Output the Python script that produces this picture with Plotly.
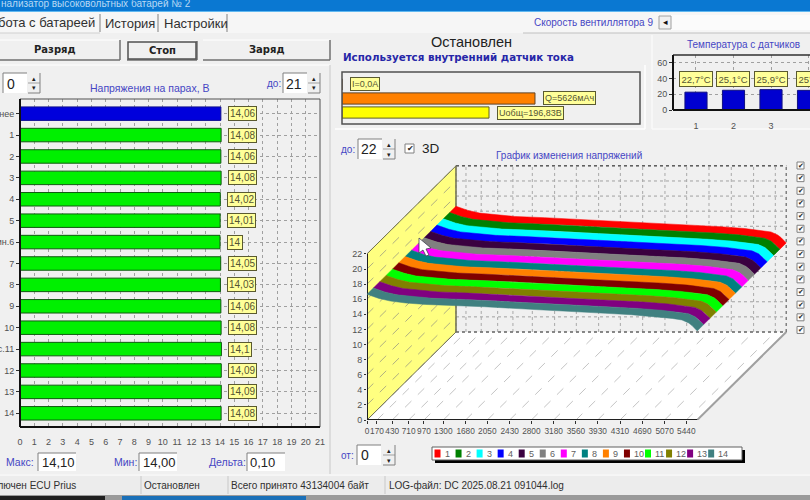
import plotly.graph_objects as go

# ---------- data ----------
pair_labels = ["днее", "1", "2", "3", "4", "5", "ин.6", "7", "8", "9", "10", "с.11", "12", "13", "14"]
pair_volts = [14.06, 14.08, 14.06, 14.08, 14.02, 14.01, 14.0, 14.05, 14.03, 14.06, 14.08, 14.1, 14.09, 14.09, 14.08]
pair_text = ["14,06", "14,08", "14,06", "14,08", "14,02", "14,01", "14", "14,05", "14,03", "14,06", "14,08", "14,1", "14,09", "14,09", "14,08"]
temp_sensors = [1, 2, 3, 4]
temp_values = [22.7, 25.1, 25.9, 25.0]
temp_text = ["22,7°C", "25,1°C", "25,9°C", "25°C"]
charge_mah = 5626
total_volts = 196.83
capacity_ticks = [0, 170, 430, 710, 970, 1300, 1680, 2050, 2430, 2800, 3180, 3560, 3930, 4310, 4690, 5070, 5440]
capacity_mah = [0, 100, 204, 400, 659, 1000, 1510, 2000, 2930, 3500, 4066, 4500, 4918, 5200, 5366, 5480, 5537, 5626]
pair_curve_volts = [16.65, 16.35, 16.1, 15.75, 15.5, 15.3, 15.14, 15.0, 14.6, 14.4, 14.13, 13.95, 13.7, 13.45, 13.25, 12.85, 12.5, 11.8]
series_names = [str(i) for i in range(1, 15)]
series_colors = ["#ff0000", "#008000", "#00ffff", "#0000ff", "#3a0040", "#808080", "#ff00ff",
                 "#008080", "#ff8000", "#800000", "#00ff00", "#808000", "#800080", "#408080"]

# ---------- style ----------
FONT = "Liberation Sans"
BG = "#f0f0f0"
TICK = "#505050"
BLUE = "#4646c4"
W, H = 810, 500


def X(p):
    return p / W


def Y(p):
    return 1 - p / H


shapes = []
annotations = []


def rect(x0, y0, x1, y1, fill=None, line=None, lw=1, layer="below"):
    shapes.append(dict(type="rect", xref="paper", yref="paper", x0=X(x0), x1=X(x1), y0=Y(y0), y1=Y(y1),
                       fillcolor=fill or "rgba(0,0,0,0)", line=dict(color=line or "rgba(0,0,0,0)", width=lw if line else 0),
                       layer=layer))


def hline(x0, y0, x1, y1, color="#a0a0a0", lw=1, dash="solid", layer="below"):
    shapes.append(dict(type="line", xref="paper", yref="paper", x0=X(x0), x1=X(x1), y0=Y(y0), y1=Y(y1),
                       line=dict(color=color, width=lw, dash=dash), layer=layer))


def text(x, y, s, size=10, color="#303030", anchor="left", bold=False, family=FONT, **kw):
    annotations.append(dict(xref="paper", yref="paper", x=X(x), y=Y(y), text=f"<b>{s}</b>" if bold else s,
                            showarrow=False, xanchor=anchor, yanchor="middle",
                            font=dict(size=size, color=color, family=family), borderpad=0, **kw))


def sunken(x0, y0, x1, y1):
    rect(x0, y0, x1, y1, fill="#ffffff")
    hline(x0, y0, x1, y0, "#808080")
    hline(x0, y0, x0, y1, "#808080")


def spinner(x0, y0, x1, y1):
    m = (y0 + y1) / 2
    rect(x0, y0, x1, y1, fill="#f0f0f0")
    hline(x0, m, x1, m, "#a0a0a0")
    hline(x1, y0, x1, y1, "#808080")
    hline(x0, y1, x1, y1, "#808080")
    text((x0 + x1) / 2, y0 + 5, "▴", size=7, color="#222222", anchor="center")
    text((x0 + x1) / 2, y1 - 5, "▾", size=7, color="#222222", anchor="center")


def button(x0, y0, x1, y1, label, pressed=False):
    rect(x0, y0, x1, y1, fill="#f0f0f0")
    hline(x0, y0, x1, y0, "#ffffff")
    hline(x1, y0, x1, y1, "#707070", 1.5)
    hline(x0, y1, x1, y1, "#707070", 1.5)
    if pressed:
        rect(x0 + 1, y0 + 1, x1 - 1, y1 - 1, line="#505050", lw=1.5)
    text((x0 + x1) / 2, (y0 + y1) / 2, label, size=10, color="#222222", anchor="center", bold=True, family="DejaVu Sans")


# ---------- window chrome ----------
rect(0, 0, W, 11, fill="#0a78d2")
hline(0, 11.5, W, 11.5, "#60b8f0", 1)
text(0, 3, "нализатор высоковольтных батарей № 2", size=10, color="#b8d8f4")
rect(0, 12, W, 33, fill="#f6f6f6")
rect(0, 33, W, 474, fill=BG)
text(96, 22, "бота с батареей", size=13, anchor="right")
text(104, 23, "История", size=13)
text(163, 23, "Настройки", size=13)
for p in (100, 158, 227):
    hline(p, 14, p, 32, "#808080")
hline(0, 33, 100, 33, "#d0d0d0")
hline(523, 33, W, 33, "#c0c0c0")
text(533, 22, "Скорость вентиллятора 9", size=10, color=BLUE)
rect(659, 15, W, 30, fill="#fbfbfb")
rect(659, 16, 671, 29, fill="#f0f0f0", line="#a0a0a0")
text(665, 22, "◂", size=9, color="#111111", anchor="center")

button(-11, 40, 120, 60, "Разряд")
button(127, 41, 197, 60, "Стоп", pressed=True)
button(203, 40, 330, 60, "Заряд")

hline(0, 65, 330, 65, "#ffffff")
hline(330, 65, 330, 474, "#c8c8c8")
sunken(3, 73, 27, 93)
text(6, 84, "0", size=14, color="#222222")
spinner(28, 73, 40, 93)
text(266, 83, "до:", size=10, color=BLUE)
sunken(283, 73, 307, 93)
text(285, 84, "21", size=14, color="#222222")
spinner(308, 73, 320, 93)
text(150, 88, "Напряжения на парах, В", size=10.5, color=BLUE, anchor="center")

text(5, 462, "Макс:", size=10.5, color=BLUE)
sunken(38, 453, 76, 471)
text(41, 462, "14,10", size=13, color="#222222")
text(113, 462, "Мин:", size=10.5, color=BLUE)
sunken(139, 453, 177, 471)
text(142, 462, "14,00", size=13, color="#222222")
text(208, 462, "Дельта:", size=10.5, color=BLUE)
sunken(247, 453, 285, 471)
text(249, 462, "0,10", size=13, color="#222222")

# status bar
rect(0, 474, W, 495, fill="#ececec")
for p in (141, 228, 385):
    hline(p, 476, p, 494, "#c8c8c8")
hline(0, 475, W, 475, "#ffffff")
rect(0, 495, W, 500, fill="#9a9a9a")
rect(0, 496, 105, 500, fill="#202020")
rect(122, 496, 306, 500, fill="#1a70b8")
text(77, 485, "ключен ECU Prius", size=10, anchor="right")
text(143, 485, "Остановлен", size=10)
text(230, 485, "Всего принято 43134004 байт", size=10)
text(388, 485, "LOG-файл: DC 2025.08.21 091044.log", size=10)

# status texts, top panel
text(471, 42, "Остановлен", size=14.5, color="#222222", anchor="center")
text(342, 57, "Используется внутренний датчик тока", size=10.3, color="#2626a8", bold=True, family="DejaVu Sans")
hline(335, 129, 645, 129, "#ffffff", 1.5)
hline(645, 65, 645, 129, "#ffffff", 1.5)
hline(652, 35, 652, 129, "#fafafa", 1.5)
hline(652, 129, W, 129, "#fafafa", 1.5)
text(743, 45, "Температура с датчиков", size=10, color=BLUE, anchor="center")

text(340, 149, "до:", size=10, color=BLUE)
sunken(358, 139, 382, 159)
text(360, 149, "22", size=14, color="#222222")
spinner(383, 139, 395, 159)
rect(405, 144, 414, 153, fill="#ffffff", line="#808080")
text(405.5, 148, "✔", size=8, color="#222222")
text(421, 148, "3D", size=13.5, color="#222222")
text(569, 155, "График изменения напряжений", size=10, color=BLUE, anchor="center")
text(340, 455, "от:", size=10, color=BLUE)
sunken(357, 445, 381, 465)
text(360, 455, "0", size=14, color="#222222")
spinner(383, 445, 395, 465)

for i in range(14):
    cy = 165.5 + i * 12.65
    rect(797, cy - 3.5, 804, cy + 3.5, fill="#ffffff", line="#808080")
    text(797, cy - 0.5, "✔", size=7, color="#222222")

fig = go.Figure()

# ---------- pair voltages ----------
fig.add_trace(go.Bar(x=pair_volts, y=pair_labels, orientation="h", xaxis="x", yaxis="y", width=0.63,
                     marker=dict(color=["#0000dc"] + ["#00f000"] * 14,
                                 line=dict(color=["#101090"] + ["#105a10"] * 14, width=1)), showlegend=False))
for v, lab, t in zip(pair_volts, pair_labels, pair_text):
    annotations.append(dict(xref="x", yref="y", x=v, y=lab, text=t, showarrow=False, xanchor="left", xshift=7,
                            bgcolor="#ffff99", bordercolor="#5a5a30", borderwidth=1, borderpad=1,
                            font=dict(size=10, color="#555533", family=FONT)))

# ---------- current / charge / voltage ----------
fig.add_trace(go.Bar(x=[0, charge_mah], y=["I", "Q"], orientation="h", xaxis="x2", yaxis="y2", width=0.8,
                     marker=dict(color="#ff8000", line=dict(color="#604020", width=1)), showlegend=False))
fig.add_trace(go.Bar(x=[total_volts], y=["U"], orientation="h", xaxis="x3", yaxis="y2", width=0.8,
                     marker=dict(color="#ffff00", line=dict(color="#606020", width=1)), showlegend=False))
for xr, v, lab, t in (("x2", 0, "I", "I=0,0A"), ("x2", charge_mah, "Q", f"Q={charge_mah}мАч"),
                      ("x3", total_volts, "U", "Uобщ=196,83В")):
    annotations.append(dict(xref=xr, yref="y2", x=v, y=lab, text=t, showarrow=False, xanchor="left",
                            xshift=8, bgcolor="#ffff99", bordercolor="#5a5a30", borderwidth=1, borderpad=1,
                            font=dict(size=9, color="#555533", family=FONT)))

# ---------- temperatures ----------
fig.add_trace(go.Bar(x=temp_sensors, y=temp_values, xaxis="x4", yaxis="y4", width=0.59,
                     marker=dict(color="#0000d0", line=dict(color="#101080", width=1)), showlegend=False))
for s, t in zip(temp_sensors, temp_text):
    annotations.append(dict(xref="x4", yref="y4", x=s, y=40, text=t, showarrow=False, xanchor="center",
                            bgcolor="#ffff99", bordercolor="#5a5a30", borderwidth=1, borderpad=1.5,
                            font=dict(size=9.5, color="#555533", family=FONT)))

# ---------- pseudo-3D voltage curves ----------
DEPTH_X = 1516.0   # oblique projection: full depth expressed in axis units
DEPTH_Y = 11.66
Z_TOP = 22
X_END = charge_mah


def proj(x, y, d):
    return x + DEPTH_X * d, y + DEPTH_Y * d


def path(points):
    return "M" + " L".join(f"{a:.2f},{b:.2f}" for a, b in points) + " Z"


def data_shape(points, fill, line=None, lw=0):
    shapes.append(dict(type="path", xref="x5", yref="y5", path=path(points), fillcolor=fill,
                       line=dict(color=line or "rgba(0,0,0,0)", width=lw), layer="below"))


def data_line(p0, p1, color, lw=1, dash="solid"):
    shapes.append(dict(type="line", xref="x5", yref="y5", x0=p0[0], y0=p0[1], x1=p1[0], y1=p1[1],
                       line=dict(color=color, width=lw, dash=dash), layer="below"))


data_shape([proj(0, 0, 0), proj(X_END, 0, 0), proj(X_END, 0, 1), proj(0, 0, 1)], "#ffffff")
data_shape([proj(0, 0, 0), proj(0, Z_TOP, 0), proj(0, Z_TOP, 1), proj(0, 0, 1)], "#ffff80")
for z in range(0, Z_TOP + 1, 2):
    data_line(proj(0, z, 0), proj(0, z, 1), "#b0b080", 1, "dash")
    data_line(proj(0, z, 1), proj(X_END, z, 1), "#a0a0a0", 1, "dot")
for c in capacity_ticks:
    data_line(proj(c, 0, 0), proj(c, 0, 1), "#c4c4c4", 1, "dash")
    data_line(proj(c, 0, 1), proj(c, Z_TOP, 1), "#a8a8a8", 1, "dot")
data_line(proj(0, Z_TOP, 1), proj(X_END, Z_TOP, 1), "#606060", 1.5, "dot")
data_line(proj(X_END, 0, 1), proj(X_END, Z_TOP, 1), "#808080", 1.5, "dot")
data_line(proj(0, 0, 1), proj(X_END, 0, 1), "#707070", 1.5, "dot")
data_line(proj(0, 0, 1), proj(0, Z_TOP, 1), "#707050", 1.5)
data_line(proj(0, Z_TOP, 0), proj(0, Z_TOP, 1), "#707050", 1)
data_line(proj(0, 0, 0), proj(0, 0, 1), "#707050", 1)
data_line(proj(X_END, 0, 0), proj(X_END, 0, 1), "#a0a0a0", 2)
data_line(proj(0, 0, 0), proj(X_END, 0, 0), "#202020", 2)
data_line(proj(0, 0, 0), proj(0, Z_TOP, 0), "#202020", 2)

n = len(series_names)
for i, (name, col) in enumerate(zip(series_names, series_colors)):
    d_front = (n - 1 - i) / n
    d_back = (n - i) / n
    front = [proj(c, v, d_front) for c, v in zip(capacity_mah, pair_curve_volts)]
    back = [proj(c, v, d_back) for c, v in zip(capacity_mah, pair_curve_volts)]
    poly = front + back[::-1] + front[:1]
    fig.add_trace(go.Scatter(x=[p[0] for p in poly], y=[p[1] for p in poly], mode="lines", fill="toself",
                             fillcolor=col, line=dict(color=col, width=0.5), name=name, xaxis="x5", yaxis="y5",
                             showlegend=False, hoverinfo="name"))

# hand-built legend in the reference's layout
rect(435, 450, 745, 463, fill="#000000")
rect(432, 447, 742, 460, fill="#ffffff", line="#606060")
for i, (name, col) in enumerate(zip(series_names, series_colors)):
    lx = 434.5 + i * 21.05
    rect(lx, 449.5, lx + 6, 457.5, fill=col)
    text(lx + 9, 454, name, size=9, color="#606060")

# mouse pointer
shapes.append(dict(type="path", xref="paper", yref="paper", layer="above", fillcolor="#ffffff",
                   line=dict(color="#404050", width=0.8),
                   path="M{:.4f},{:.4f} L{:.4f},{:.4f} L{:.4f},{:.4f} L{:.4f},{:.4f} L{:.4f},{:.4f} L{:.4f},{:.4f} L{:.4f},{:.4f} Z".format(
                       X(419), Y(238), X(419), Y(253), X(423), Y(250), X(426), Y(256),
                       X(429), Y(255), X(426), Y(249), X(431), Y(248))))

# frames of the 2-D charts
rect(20, 99, 320, 427, line="#505050", lw=1, layer="above")
hline(20, 99, 20, 427, "#111111", 2, layer="above")
hline(20, 427, 320, 427, "#111111", 2, layer="above")
rect(342, 72, 640, 124, line="#505050", lw=1.5, layer="above")
hline(673, 55, 810, 55, "#303030", 1.5, layer="above")
hline(673, 55, 673, 110, "#111111", 2, layer="above")
hline(673, 110, 810, 110, "#111111", 2, layer="above")


def domx(a, b):
    return [max(X(a), 0), min(X(b), 1)]


def domy(top, bottom):
    return [Y(bottom), Y(top)]


tickfont = dict(size=9, color=TICK, family=FONT)
grid = dict(gridcolor="#a0a0a0", griddash="dot", gridwidth=1, zeroline=False, automargin=False)
CLEAR = "rgba(0,0,0,0)"

fig.update_layout(
    width=W, height=H, margin=dict(l=0, r=0, t=0, b=0), autosize=False,
    paper_bgcolor=BG, plot_bgcolor="rgba(0,0,0,0)", barmode="overlay", showlegend=False,
    font=dict(family=FONT),
    shapes=shapes, annotations=annotations,
    xaxis=dict(domain=domx(20, 320), range=[0, 21], tickmode="linear", tick0=0, dtick=1, tickangle=0,
               anchor="y", tickfont=tickfont, ticks="outside", ticklen=6, tickcolor=CLEAR, **grid),
    yaxis=dict(domain=domy(99, 427), type="category", categoryorder="array", categoryarray=pair_labels,
               range=[14.64, -0.685], anchor="x", tickfont=tickfont, ticks="outside", ticklen=3,
               tickcolor="#303030", dtick=1, **grid),
    xaxis2=dict(domain=domx(342, 640), range=[0, 8688], visible=False, anchor="y2", automargin=False),
    xaxis3=dict(domain=domx(342, 640), range=[0, 399], visible=False, anchor="y2", overlaying="x2", automargin=False),
    yaxis2=dict(domain=domy(72, 124), type="category", categoryorder="array", categoryarray=["I", "Q", "U"],
                range=[2.82, -0.89], visible=False, anchor="x2", automargin=False),
    xaxis4=dict(domain=domx(673, 810), range=[0.387, 4.04], tickvals=temp_sensors, anchor="y4",
                tickfont=tickfont, ticks="outside", ticklen=7, tickcolor=CLEAR, tickangle=0, **grid),
    yaxis4=dict(domain=domy(55, 110), range=[0, 70], tickvals=[0, 20, 40, 60], anchor="x4",
                tickfont=tickfont, ticks="outside", ticklen=3, tickcolor="#303030", **grid),
    xaxis5=dict(domain=domx(367, 810), range=[0, (810 - 367) / 0.0587], tickvals=capacity_ticks,
                anchor="y5", tickfont=dict(size=8.3, color=TICK, family=FONT), ticks="outside", ticklen=3,
                tickcolor="#303030", tickangle=0, showgrid=False, zeroline=False, showline=False, automargin=False),
    yaxis5=dict(domain=domy(160, 420), range=[0, 260 / 7.55], tickvals=list(range(0, Z_TOP + 1, 2)),
                anchor="x5", tickfont=tickfont, ticks="outside", ticklen=2, tickcolor="#303030",
                showgrid=False, zeroline=False, showline=False, automargin=False),
)

fig.write_html("out.html", config=dict(displayModeBar=False),
               post_script="document.body.style.margin='0';document.body.style.overflow='hidden';")
